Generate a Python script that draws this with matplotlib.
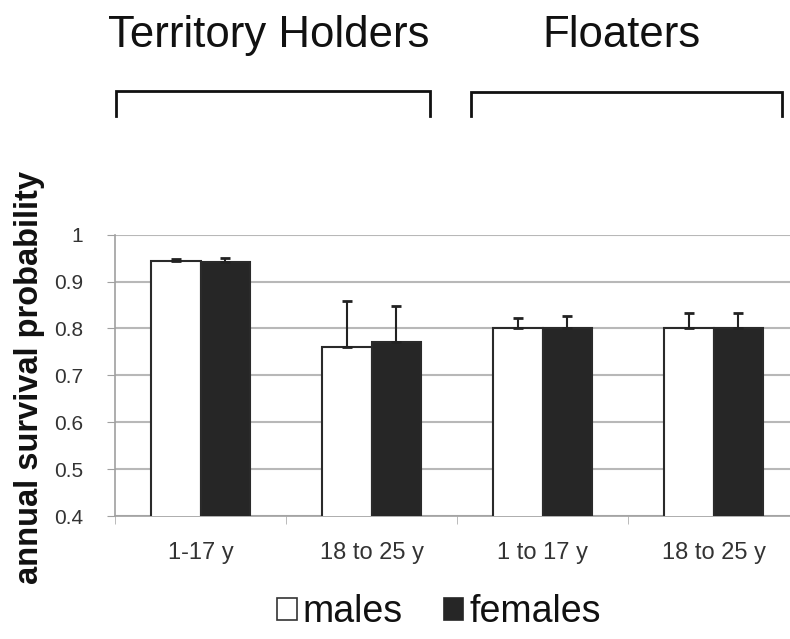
import matplotlib
matplotlib.use("Agg")
import matplotlib.pyplot as plt
from matplotlib.patches import Patch
from matplotlib.lines import Line2D
import numpy as np

plt.rcParams['font.family'] = ['Liberation Sans', 'DejaVu Sans']

categories = ["1-17 y", "18 to 25 y", "1 to 17 y", "18 to 25 y"]
males = [0.943, 0.761, 0.802, 0.802]
females = [0.941, 0.771, 0.802, 0.800]
males_err = [0.006, 0.098, 0.020, 0.031]
females_err = [0.009, 0.076, 0.025, 0.033]
yticks = [0.4, 0.5, 0.6, 0.7, 0.8, 0.9, 1.0]
ytick_labels = ["0.4", "0.5", "0.6", "0.7", "0.8", "0.9", "1"]
group_titles = ["Territory Holders", "Floaters"]
legend_labels = ["males", "females"]

W, H = 790, 639
fig = plt.figure(figsize=(W / 100, H / 100), dpi=100)
ax = fig.add_axes([115 / W, 1 - 516 / H, 684 / W, (516 - 234.7) / H])

x = np.arange(len(categories))
bw = 0.287
edge = '#2a2a2a'
ax.bar(x - bw / 2, males, bw, bottom=0, color='white', edgecolor=edge, linewidth=1.5, zorder=3)
ax.bar(x + bw / 2, females, bw, bottom=0, color='#262626', edgecolor=edge, linewidth=1.5, zorder=3)
ax.errorbar(x - bw / 2, males, yerr=[np.zeros(len(males)), males_err], fmt='none',
            ecolor='#222222', elinewidth=1.5, capsize=3.6, capthick=2, zorder=4)
ax.errorbar(x + bw / 2, females, yerr=[np.zeros(len(females)), females_err], fmt='none',
            ecolor='#222222', elinewidth=1.5, capsize=3.6, capthick=2, zorder=4)

ax.set_xlim(-0.5, len(categories) - 0.5)
ax.set_ylim(0.4, 1.0)
ax.set_yticks(yticks)
ax.set_yticklabels(ytick_labels)
ax.set_xticks(x)
ax.set_xticklabels(categories)
ax.set_xticks(np.arange(len(categories) + 1) - 0.5, minor=True)
ax.tick_params(axis='x', which='major', length=0, pad=19, labelsize=17, labelcolor='#333333')
ax.tick_params(axis='x', which='minor', length=6, color='#b0b0b0', direction='out')
ax.tick_params(axis='y', length=5.5, color='#a0a0a0', pad=17.5, labelsize=15, labelcolor='#333333')
ax.yaxis.grid(True, color='#b8b8b8', linewidth=1.5, zorder=0)
ax.set_axisbelow(True)
for s in ['top', 'right']:
    ax.spines[s].set_visible(False)
ax.spines['left'].set_color('#a0a0a0')
ax.spines['bottom'].set_color('#a0a0a0')
ax.spines['left'].set_linewidth(1.2)
ax.spines['bottom'].set_linewidth(1.2)

fig.text(30 / W, 1 - 377 / H, "annual survival probability", rotation=90,
         ha='center', va='center', fontsize=23.5, fontweight='bold', color='#111111')

# group titles and brackets
title_x = [268.5, 621]
for t, tx in zip(group_titles, title_x):
    fig.text(tx / W, 1 - 47 / H, t, ha='center', va='baseline', fontsize=31.5, color='#111111')

brackets = [(116, 430, 91), (471, 782, 92)]
for x0, x1, yb in brackets:
    xs = [x0 / W, x0 / W, x1 / W, x1 / W]
    ys = [1 - 116 / H, 1 - yb / H, 1 - yb / H, 1 - 116 / H]
    fig.add_artist(Line2D(xs, ys, color='#111111', linewidth=2.0, transform=fig.transFigure,
                          solid_joinstyle='miter'))

handles = [Patch(facecolor='white', edgecolor='#333333', linewidth=1.2),
           Patch(facecolor='#262626', edgecolor='#262626', linewidth=1.2)]
fig.legend(handles, legend_labels, loc='center', bbox_to_anchor=(439 / W, 1 - 612 / H),
           ncol=2, frameon=False, fontsize=27, handlelength=0.52, handleheight=0.52,
           handletextpad=0.15, columnspacing=1.1, labelcolor='#111111')

fig.savefig("out.png", dpi=100)
